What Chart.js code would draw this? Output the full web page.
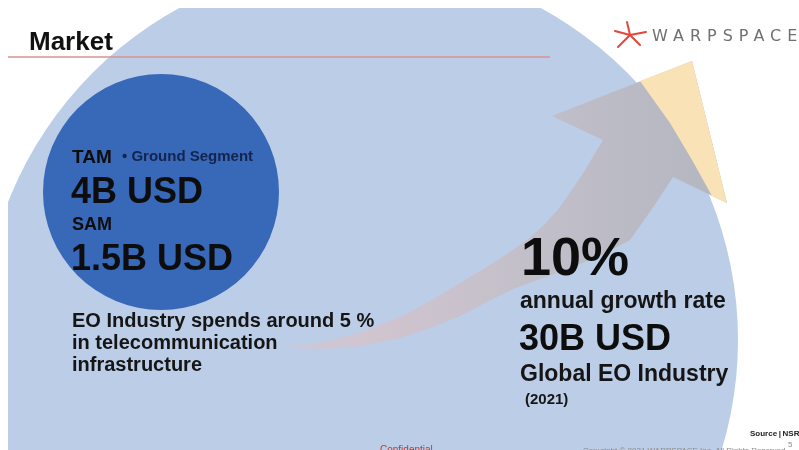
<!DOCTYPE html>
<html lang="en">
<head>
  <meta charset="UTF-8">
  <title>Market</title>
  <script src="https://cdn.jsdelivr.net/npm/chart.js"></script>
  <style>
    body {
      margin: 0;
      background: #ffffff;
      overflow: hidden;
    }

    .slide {
      width: 799px;
      height: 450px;
    }
  </style>
</head>
<body>
  <div class="slide">
    <canvas id="marketChart"></canvas>
  </div>

  <script>
    // market sizes (B USD) and the circles
    const marketNames = ['Global EO Industry', 'TAM'];
    const marketSizes = [30, 4];
    const circleCenters = [[360, 340], [161, 192]];
    const circleRadii = [378, 118];

    // growth arrow outline, tail -> head -> tail
    const arrowUpper = [[280, 347], [320, 342], [360, 333], [400, 317], [430, 301], [460, 283],
      [495, 262], [527, 240], [545, 224], [560, 207], [582, 175], [603, 140]];
    const arrowHead = [[552, 116], [692, 61], [727, 203], [673, 177]];
    const arrowLower = [[652, 209], [630, 240], [600, 256], [570, 268], [540, 279], [513, 289],
      [485, 303], [460, 316], [430, 328], [400, 338], [360, 346], [320, 350], [280, 347]];
    // part of the arrow head that sticks out of the big circle
    const arrowTipOutside = [[640, 81], [692, 61], [727, 203], [712, 196], [692, 160], [670, 123], [640, 81]];

    const ruleLine = [[8, 57], [550, 57]];

    const title = 'Market';
    const tamLabel = 'TAM';
    const tamNote = '\u2022 Ground Segment';
    const tamValue = '4B USD';
    const samLabel = 'SAM';
    const samValue = '1.5B USD';
    const noteLines = ['EO Industry spends around 5 %', 'in telecommunication', 'infrastructure'];
    const growthRate = '10%';
    const growthLabel = 'annual growth rate';
    const industryValue = '30B USD';
    const industryLabel = 'Global EO Industry';
    const industryYear = '(2021)';
    const logoText = 'WARPSPACE';
    const sourceText = 'Source\u2009|\u2009NSR';
    const pageNumber = '5';
    const confidentialText = 'Confidential';
    const copyrightText = 'Copyright \u00a9 2021 WARPSPACE Inc. All Rights Reserved.';

    const FONT = '"Liberation Sans", Arial, sans-serif';

    const textItems = [
      { text: title, x: 29, y: 50, size: 26, color: '#111111' },
      { text: tamLabel, x: 72, y: 163, size: 19, color: '#0d0d0d' },
      { text: tamNote, x: 122, y: 161, size: 15, color: '#14244e' },
      { text: tamValue, x: 71, y: 203, size: 36, color: '#0d0d0d' },
      { text: samLabel, x: 72, y: 230, size: 18, color: '#0d0d0d' },
      { text: samValue, x: 71, y: 270, size: 36, color: '#0d0d0d' },
      { text: noteLines[0], x: 72, y: 327, size: 20, color: '#151515' },
      { text: noteLines[1], x: 72, y: 349, size: 20, color: '#151515' },
      { text: noteLines[2], x: 72, y: 371, size: 20, color: '#151515' },
      { text: growthRate, x: 521, y: 275, size: 54, color: '#0d0d0d' },
      { text: growthLabel, x: 520, y: 308, size: 23, color: '#151515' },
      { text: industryValue, x: 519, y: 350, size: 36, color: '#0d0d0d' },
      { text: industryLabel, x: 520, y: 381, size: 23, color: '#151515' },
      { text: industryYear, x: 525, y: 404, size: 15, color: '#151515' },
      { text: sourceText, x: 750, y: 436, size: 8, color: '#222222' },
      { text: pageNumber, x: 788, y: 447, size: 8, color: '#8a8a8a', weight: 'normal' },
      { text: confidentialText, x: 380, y: 453, size: 10, color: '#c0392b', weight: 'normal' },
      { text: copyrightText, x: 583, y: 453, size: 8, color: '#8a8a8a', weight: 'normal' }
    ];

    const toPoints = pairs => pairs.map(p => ({ x: p[0], y: p[1] }));

    // circle radius in axis units -> pixels
    function radiusPx(chart, cx, r) {
      const sx = chart.scales.x;
      if (!sx) return r;
      return sx.getPixelForValue(cx + r) - sx.getPixelForValue(cx);
    }

    const slideText = {
      id: 'slideText',
      afterDatasetsDraw(chart) {
        const c = chart.ctx;
        const sx = chart.scales.x;
        const sy = chart.scales.y;
        c.save();
        c.textBaseline = 'alphabetic';
        textItems.forEach(t => {
          c.font = (t.weight || 'bold') + ' ' + t.size + 'px ' + FONT;
          c.fillStyle = t.color;
          c.fillText(t.text, sx.getPixelForValue(t.x), sy.getPixelForValue(t.y));
        });

        // logo: red star + spaced word mark
        const lx = sx.getPixelForValue(630);
        const ly = sy.getPixelForValue(35);
        c.strokeStyle = '#e2473b';
        c.lineWidth = 2;
        c.lineCap = 'round';
        [[-3, -13], [16, -3], [10, 10], [-12, 12], [-15, -4]].forEach(d => {
          c.beginPath();
          c.moveTo(lx, ly);
          c.lineTo(lx + d[0], ly + d[1]);
          c.stroke();
        });
        c.font = '16px "DejaVu Sans", sans-serif';
        c.fillStyle = '#707070';
        c.letterSpacing = '6px';
        c.fillText(logoText, sx.getPixelForValue(652), sy.getPixelForValue(41));
        c.restore();
      }
    };

    const ctx = document.getElementById('marketChart').getContext('2d');

    const chart = new Chart(ctx, {
      type: 'scatter',
      data: {
        datasets: [
          {
            type: 'line',
            label: 'rule',
            data: toPoints(ruleLine),
            borderColor: '#d9928f',
            borderWidth: 1.5,
            pointRadius: 0,
            order: 1
          },
          {
            type: 'line',
            label: 'arrow tip',
            data: toPoints(arrowTipOutside),
            borderWidth: 0,
            pointRadius: 0,
            backgroundColor: '#f8e2b6',
            fill: 'shape',
            order: 2
          },
          {
            type: 'line',
            label: 'growth',
            data: toPoints(arrowUpper.concat(arrowHead, arrowLower)),
            borderWidth: 0,
            pointRadius: 0,
            fill: 'shape',
            backgroundColor: function (context) {
              const chart = context.chart;
              if (!chart.chartArea) return '#b8b9c3';
              const sx = chart.scales.x;
              const g = chart.ctx.createLinearGradient(sx.getPixelForValue(280), 0, sx.getPixelForValue(700), 0);
              g.addColorStop(0, 'rgba(214, 196, 206, 0.35)');
              g.addColorStop(0.2, 'rgba(210, 196, 206, 0.95)');
              g.addColorStop(0.6, '#c2bfc9');
              g.addColorStop(1, '#b5b7c1');
              return g;
            },
            order: 3
          },
          {
            label: marketNames[1] + ' ' + marketSizes[1] + 'B USD',
            data: [{ x: circleCenters[1][0], y: circleCenters[1][1] }],
            pointRadius: c => radiusPx(c.chart, circleCenters[1][0], circleRadii[1]),
            pointBackgroundColor: '#3868b8',
            pointBorderWidth: 0,
            clip: 0,
            order: 4
          },
          {
            label: marketNames[0] + ' ' + marketSizes[0] + 'B USD',
            data: [{ x: circleCenters[0][0], y: circleCenters[0][1] }],
            pointRadius: c => radiusPx(c.chart, circleCenters[0][0], circleRadii[0]),
            pointBackgroundColor: '#bccde7',
            pointBorderWidth: 0,
            clip: 0,
            order: 5
          }
        ]
      },
      options: {
        responsive: true,
        maintainAspectRatio: false,
        animation: false,
        events: [],
        layout: {
          padding: { left: 8, top: 8, right: 0, bottom: 0 }
        },
        plugins: {
          legend: { display: false },
          tooltip: { enabled: false },
          title: { display: false }
        },
        scales: {
          x: { type: 'linear', min: 8, max: 799, display: false },
          y: { type: 'linear', min: 8, max: 450, reverse: true, display: false }
        }
      },
      plugins: [slideText]
    });
  </script>
</body>
</html>
